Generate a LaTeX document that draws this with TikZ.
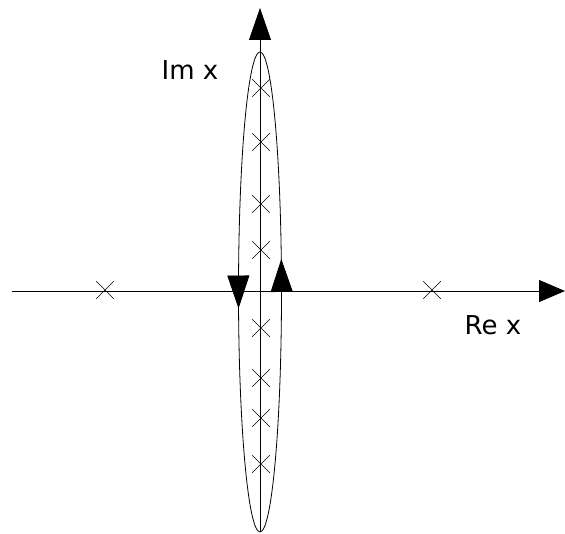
\documentclass[tikz,border=0pt]{standalone}
\usepackage{fontspec}
\setmainfont{DejaVu Sans}
\usepackage{tikz}
\usetikzlibrary{arrows.meta,shapes.misc,decorations.markings}

\begin{document}
\begin{tikzpicture}[x=1pt, y=1pt,
      axis/.style={line width=0.8pt, -{Triangle[length=#1, width=22pt]}},
      pole/.style={draw, cross out, minimum size=17pt, inner sep=0pt, line width=0.5pt},
      lbl/.style={font=\fontsize{26}{30}\selectfont},
      contour/.style={line width=0.8pt, postaction={decorate}, decoration={markings,
        mark=at position 0.034 with {\arrow{Triangle[length=33pt, width=22pt]}},
        mark=at position 0.517 with {\arrow{Triangle[length=33pt, width=22pt]}}}}]
    \useasboundingbox (-260,-242) rectangle (305,291);
    % axes
    \coordinate (west) at (-248,0);
    \coordinate (east) at (305,0);
    \coordinate (south) at (0,-241);
    \coordinate (north) at (0,283);
    \draw[axis=26pt] (west) -- (east);
    \draw[axis=32pt] (south) -- (north);
    % integration contour
    \draw[contour] (0,-1) ellipse (21.5 and 240);
    % poles
    \node[pole] (r1) at (-155,1) {};
    \node[pole] (r2) at (172,1) {};
    \foreach \y [count=\i] in {203,149,87,41,-37,-87,-127,-173}
      \node[pole] (p\i) at (1,\y) {};
    \node[lbl] (im) at (-70,221) {Im x};
    \node[lbl] (re) at (233,-34) {Re x};
  \end{tikzpicture}
\end{document}
